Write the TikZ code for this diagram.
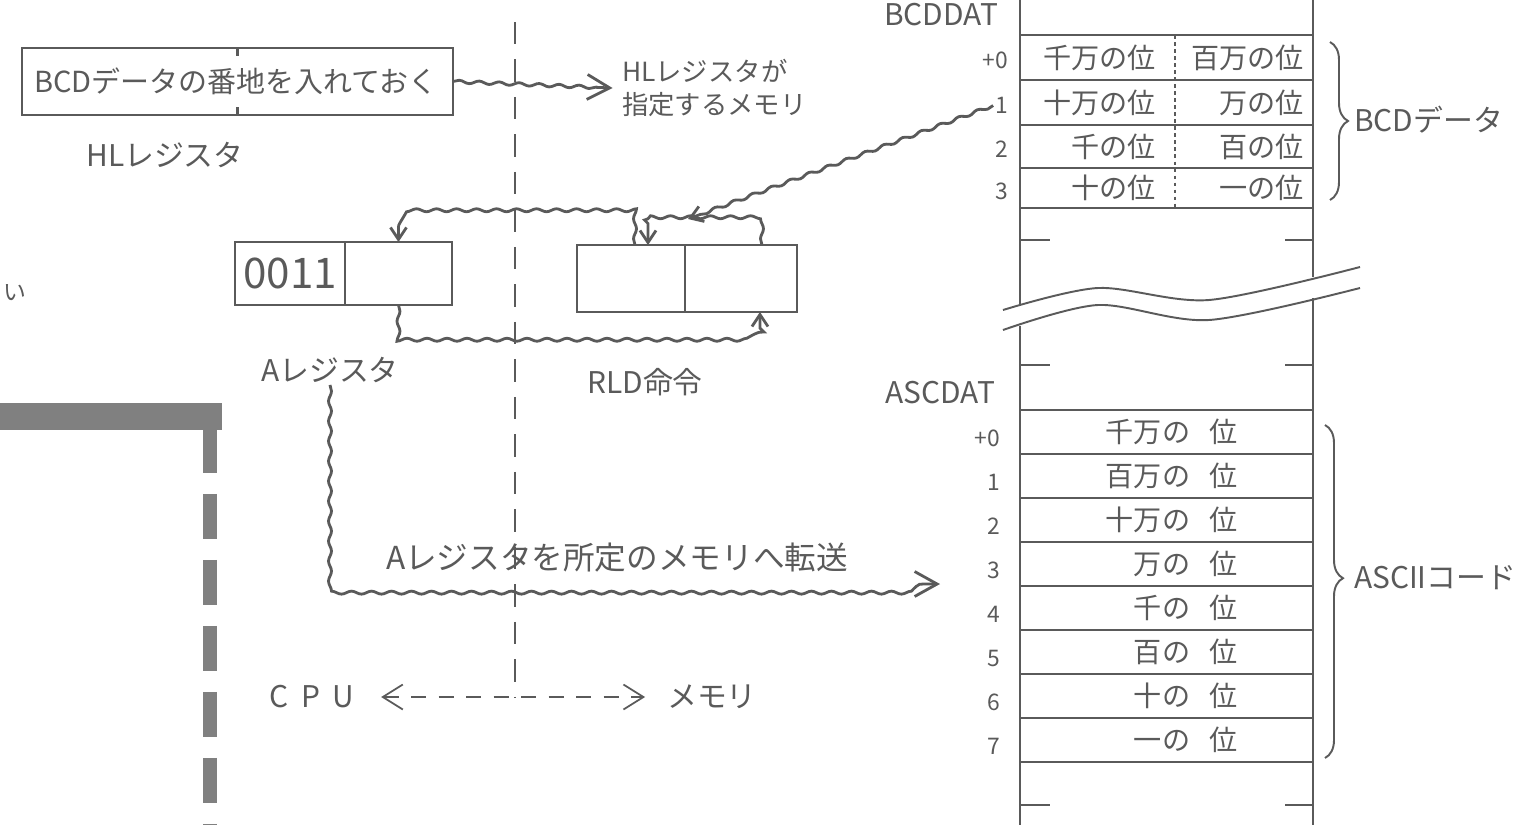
\documentclass[tikz,border=0pt]{standalone}
\usepackage{fontspec}
\setmainfont{Noto Sans CJK JP}
\usetikzlibrary{arrows.meta,positioning,calc,decorations.pathmorphing,decorations.pathreplacing}
\definecolor{ink}{HTML}{5A5A5A}
\definecolor{barg}{HTML}{808080}

\tikzset{
  txt/.style={text=ink, inner sep=1pt, font=\fontsize{17}{20}\selectfont},
  small/.style={text=ink, inner sep=1pt, font=\fontsize{13}{15}\selectfont},
  regbox/.style={draw=ink, line width=1.3pt, inner sep=0pt, outer sep=0pt, text=ink},
  memline/.style={draw=ink, line width=1.1pt},
  wavy/.style={draw=ink, line width=1.6pt, decorate,
    decoration={snake, amplitude=0.3mm, segment length=4mm, post length=2.5mm}},
  bigtip/.style={-{Straight Barb[length=4.5mm,width=5mm]}},
  smalltip/.style={-{Straight Barb[length=2.4mm,width=3.2mm]}},
}

\begin{document}
\begin{tikzpicture}[x=0.02cm, y=-0.02cm]
  \useasboundingbox (0,0) rectangle (1524,825);

  % HL register
  \node[regbox, minimum width=8.62cm, minimum height=1.34cm] (hl) at (237.5,81.5) {};
  \node[txt, font=\fontsize{16.5}{20}\selectfont, anchor=west] (hltxt) at ([xshift=0.2cm]hl.west) {BCDデータの番地を入れておく};
  \draw[regbox] (hl.north) -- ++(0,8) (hl.south) -- ++(0,-8);
  \node[txt] (hllabel) at (165,155) {HLレジスタ};
  \node[txt, font=\fontsize{15}{19}\selectfont, align=left, anchor=west] (hlmem) at (620,88) {HLレジスタが\\指定するメモリ};
  \draw[wavy, bigtip] (hl.east) -- ([xshift=-0.15cm]hlmem.west);

  % CPU / memory border
  \coordinate (septop) at (515,22);
  \coordinate (sepbot) at (515,697);
  \node[txt] (cpu) at (312,697) {C\hspace{7pt}P\hspace{7pt}U};
  \node[txt] (mem) at (712,697) {メモリ};
  \draw[draw=ink, line width=1pt, dash pattern=on 0.45cm off 0.3cm] (septop) -- (sepbot);
  \draw[draw=ink, line width=1pt, dash pattern=on 0.3cm off 0.25cm,
    {Straight Barb[length=4mm,width=5mm]}-{Straight Barb[length=4mm,width=5mm]}]
    ([xshift=0.5cm]cpu.east) -- ([xshift=-0.4cm]mem.west);

  % A register
  \node[regbox, minimum width=2.2cm, minimum height=1.26cm, font=\fontsize{24}{26}\selectfont] (a0) at (290,273.5) {0011};
  \node[regbox, right=0pt of a0, minimum width=2.14cm, minimum height=1.26cm] (a1) {};
  \node[txt] (alabel) at (330,370) {Aレジスタ};

  % RLD
  \node[regbox, minimum width=2.16cm, minimum height=1.34cm] (r0) at (631,278.5) {};
  \node[regbox, right=0pt of r0, minimum width=2.24cm, minimum height=1.34cm] (r1) {};
  \node[txt] (rldlabel) at (645,382) {RLD命令};

  \draw[wavy, smalltip] ([xshift=0.08cm]r0.north) -- ++(0,-27) -| (a1.north);
  \draw[wavy, smalltip] ([xshift=0.42cm]r1.north) -- ++(0,-25) -| ([xshift=0.34cm]r0.north);
  \draw[wavy, smalltip] (a1.south) -- ++(0,27) -| ([xshift=0.38cm]r1.south);
  \coordinate (b2top) at (688,219);

  % memory column
  \draw[memline] (1020,0) -- (1020,306) (1313,0) -- (1313,277);
  \draw[memline] (1020,326) -- (1020,825) (1313,298) -- (1313,825);
  \draw[memline] plot[smooth] coordinates {(1003,310) (1098,288) (1209,300) (1360,267)};
  \draw[memline] plot[smooth] coordinates {(1003,330) (1098,305) (1209,320) (1360,288)};
  \foreach \yy in {240,365,805} {
    \draw[memline] (1020,\yy) -- ++(30,0);
    \draw[memline] (1313,\yy) -- ++(-28,0);
  }

  % BCD data
  \node[txt, anchor=east] (bcddat) at (1000,15) {BCDDAT};
  \foreach \yy in {35,80,125,168,208}
    \draw[memline] (1020,\yy) -- (1313,\yy);
  \draw[memline, dash pattern=on 2pt off 2pt] (1175,35) -- (1175,208);
  \foreach \i/\yc/\lt/\rt/\idx in {0/57.5/千万の位/百万の位/+0, 1/102.5/十万の位/万の位/1,
                                   2/146.5/千の位/百の位/2, 3/188/十の位/一の位/3} {
    \node[txt, font=\fontsize{16}{18}\selectfont, anchor=east] (bcdl\i) at (1158,\yc) {\lt};
    \node[txt, font=\fontsize{16}{18}\selectfont, anchor=east] (bcdr\i) at (1306,\yc) {\rt};
    \node[small, anchor=east] (bcdn\i) at (1010,\yc+3) {\idx};
  }
  \draw[memline, decorate, decoration={brace, amplitude=0.36cm}] (1330,42) -- (1330,200);
  \node[txt, anchor=west] (bcdname) at (1352,120) {BCDデータ};
  \draw[wavy, smalltip] (bcdn1.west) -- (b2top);

  % ASCII data
  \node[txt, anchor=east] (ascdat) at (997,393) {ASCDAT};
  \foreach \k in {0,...,8}
    \draw[memline] (1020,410+44*\k) -- (1313,410+44*\k);
  \foreach \i/\lbl/\idx in {0/千万の/+0, 1/百万の/1, 2/十万の/2, 3/万の/3,
                            4/千の/4, 5/百の/5, 6/十の/6, 7/一の/7} {
    \node[txt, font=\fontsize{16}{18}\selectfont, anchor=east] (ascl\i) at (1240,432+44*\i) {\lbl\hspace{0.7em}位};
    \node[small, anchor=east] (ascn\i) at (1002,438+44*\i) {\idx};
  }
  \draw[memline, decorate, decoration={brace, amplitude=0.36cm, aspect=0.46}] (1325,425) -- (1325,758);
  \node[txt, anchor=west] (ascname) at (1352,578) {ASCIIコード};

  % transfer to memory
  \coordinate (xferend) at (940,584);
  \draw[wavy, bigtip] (alabel.south) |- (xferend);
  \node[txt, font=\fontsize{18}{20}\selectfont] (xfertxt) at (617,558) {Aレジスタを所定のメモリへ転送};

  % left margin
  \draw[barg, line width=0.54cm] (0,416) -- (222,416);
  \draw[barg, line width=0.28cm, dash pattern=on 0.9cm off 0.42cm] (210,428) -- (210,825);
  \node[small] (frag) at (15,293) {い};
\end{tikzpicture}
\end{document}
